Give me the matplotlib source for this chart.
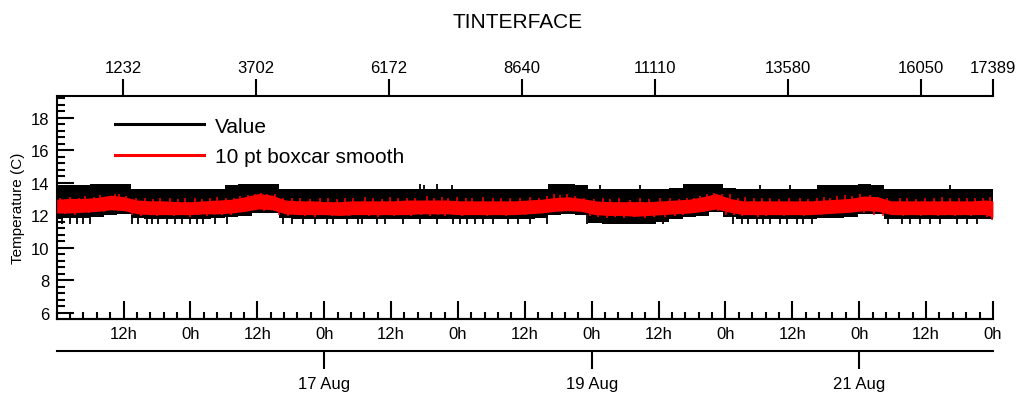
import numpy as np
import matplotlib.pyplot as plt
from matplotlib.lines import Line2D
from matplotlib.ticker import MultipleLocator

plt.rcParams['font.family'] = ['Liberation Sans', 'DejaVu Sans']

n_points = 17389
hours_total = 168.0

# sample index of each envelope reading (every 250 samples + last point)
seg_idx = list(range(0, 17251, 250)) + [17389]

# raw "Value" trace envelope
black_hi = [13.85, 13.85, 13.9, 13.95, 13.95, 13.95, 13.65, 13.6, 13.6, 13.6,
            13.6, 13.6, 13.6, 13.85, 13.95, 13.95, 13.95, 13.6, 13.6, 13.6,
            13.6, 13.6, 13.6, 13.6, 13.6, 13.6, 13.6, 13.65, 13.65, 13.6,
            13.6, 13.6, 13.6, 13.6, 13.6, 13.6, 13.65, 13.95, 13.95, 13.9,
            13.6, 13.6, 13.6, 13.6, 13.6, 13.6, 13.7, 13.95, 13.95, 13.95,
            13.7, 13.6, 13.6, 13.6, 13.6, 13.6, 13.6, 13.85, 13.9, 13.9,
            13.95, 13.9, 13.6, 13.6, 13.6, 13.6, 13.6, 13.6, 13.6, 13.6, 13.6]
black_lo = [11.8, 11.85, 11.85, 11.9, 12.05, 12.1, 11.85, 11.8, 11.8, 11.8,
            11.8, 11.8, 11.85, 11.9, 11.95, 12.15, 12.15, 11.85, 11.8, 11.8,
            11.8, 11.8, 11.8, 11.8, 11.8, 11.8, 11.8, 11.8, 11.8, 11.8,
            11.8, 11.8, 11.8, 11.8, 11.8, 11.8, 11.85, 12.0, 12.1, 12.05,
            11.55, 11.5, 11.5, 11.5, 11.5, 11.6, 11.8, 11.9, 11.95, 12.2,
            11.9, 11.8, 11.8, 11.8, 11.8, 11.8, 11.8, 11.85, 11.85, 11.9,
            12.1, 12.1, 11.8, 11.8, 11.8, 11.8, 11.8, 11.8, 11.8, 11.8, 11.8]

# 10 pt boxcar smooth envelope
red_hi = [13.0, 13.05, 13.05, 13.1, 13.25, 13.15, 12.95, 12.9, 12.9, 12.85,
          12.85, 12.9, 12.95, 13.0, 13.15, 13.35, 13.25, 12.95, 12.9, 12.9,
          12.85, 12.85, 12.9, 12.9, 12.9, 12.9, 12.95, 12.95, 12.95, 12.95,
          12.9, 12.9, 12.9, 12.9, 12.9, 12.95, 13.0, 13.1, 13.15, 13.05,
          12.9, 12.85, 12.85, 12.85, 12.85, 12.9, 12.95, 13.0, 13.15, 13.35,
          13.05, 12.9, 12.9, 12.9, 12.9, 12.9, 12.9, 12.95, 13.0, 13.05,
          13.2, 13.15, 12.9, 12.9, 12.9, 12.9, 12.9, 12.9, 12.9, 12.95, 12.9]
red_lo = [12.15, 12.15, 12.2, 12.25, 12.35, 12.3, 12.1, 12.05, 12.05, 12.05,
          12.05, 12.1, 12.1, 12.15, 12.25, 12.4, 12.35, 12.1, 12.05, 12.05,
          12.05, 12.0, 12.05, 12.05, 12.05, 12.05, 12.05, 12.1, 12.1, 12.1,
          12.05, 12.05, 12.05, 12.05, 12.05, 12.1, 12.15, 12.25, 12.3, 12.25,
          12.05, 12.0, 12.0, 11.95, 12.0, 12.05, 12.1, 12.15, 12.25, 12.4,
          12.2, 12.05, 12.05, 12.05, 12.05, 12.05, 12.05, 12.1, 12.15, 12.2,
          12.3, 12.25, 12.05, 12.05, 12.05, 12.05, 12.05, 12.05, 12.05, 12.05, 11.9]

# isolated excursions of the raw trace
dip_idx = [98, 247, 377, 488, 618, 1398, 1510, 1677, 1770, 1881, 2048, 2197,
           2327, 2475, 2605, 2717, 2940, 3163, 4203, 4370, 4574, 4797, 5020,
           5131, 5391, 5595, 5670, 5948, 6097, 6431, 6747, 7063, 7360, 7490,
           7620, 7768, 7917, 8103, 8381, 8567, 8790, 9106, 9849, 11260, 12560,
           12727, 12839, 13006, 13117, 13247, 13433, 13563, 13749, 13860,
           14027, 15438, 15698, 15847, 16033, 16219, 16405, 16720, 16906, 17092]
dip_val = [11.5, 11.45, 11.5, 11.45, 11.5, 11.5, 11.45, 11.45, 11.5, 11.45,
           11.45, 11.5, 11.45, 11.45, 11.5, 11.45, 11.45, 11.5, 11.45, 11.45,
           11.5, 11.45, 11.45, 11.5, 11.45, 11.45, 11.5, 11.45, 11.5, 11.45,
           11.45, 11.5, 11.45, 11.45, 11.5, 11.45, 11.45, 11.5, 11.45, 11.5,
           11.45, 11.5, 11.45, 11.45, 11.5, 11.45, 11.45, 11.5, 11.45, 11.45,
           11.5, 11.45, 11.45, 11.5, 11.45, 11.5, 11.45, 11.45, 11.5, 11.45,
           11.45, 11.5, 11.45, 11.5]
peak_idx = [6747, 6821, 7063, 7341, 10089, 10832, 13060, 13617, 16588]
peak_val = [13.95, 13.9, 13.95, 13.9, 13.9, 13.9, 13.9, 13.9, 13.9]

# excursions of the smoothed trace
red_up_idx = [60, 250, 420, 530, 700, 810, 950, 1090, 1150, 1290,
              1480, 1640, 1790, 1920, 2100, 2250, 2390, 2560, 2700, 2850,
              2980, 3150, 3300, 3410, 3560, 3680, 3790, 3900, 4050, 4200,
              4380, 4520, 4700, 4890, 5040, 5200, 5350, 5500, 5720, 5880,
              6050, 6190, 6340, 6500, 6650, 6880, 7010, 7150, 7270, 7440,
              7600, 7710, 7920, 8100, 8250, 8420, 8600, 8790, 8950, 9100,
              9230, 9350, 9480, 9630, 9800, 9980, 10150, 10280, 10450, 10640,
              10830, 11000, 11200, 11390, 11560, 11700, 11830, 11950, 12080, 12200,
              12350, 12500, 12650, 12790, 12950, 13100, 13250, 13420, 13600, 13800,
              13950, 14120, 14250, 14370, 14500, 14640, 14780, 14920, 15100, 15260,
              15420, 15660, 15800, 15960, 16130, 16300, 16450, 16590, 16750, 16900,
              17050, 17200, 17330]
red_up_val = [13.1, 13.15, 13.05, 13.2, 13.15, 13.25, 13.1, 13.3, 13.35, 13.2,
              13.05, 13.1, 13.0, 13.05, 13.1, 13.0, 13.1, 13.05, 13.0, 13.1,
              13.15, 13.05, 13.1, 13.2, 13.25, 13.35, 13.4, 13.3, 13.35, 13.1,
              13.05, 13.1, 13.0, 13.1, 13.05, 13.0, 13.05, 13.1, 13.15, 13.05,
              13.0, 13.15, 13.1, 13.05, 13.1, 13.2, 13.05, 13.15, 13.1, 13.15,
              13.05, 13.1, 13.15, 13.05, 13.1, 13.05, 13.1, 13.15, 13.1, 13.2,
              13.3, 13.25, 13.3, 13.2, 13.05, 13.0, 13.05, 13.0, 13.05, 12.95,
              13.1, 13.0, 13.05, 13.1, 13.0, 13.05, 13.1, 13.2, 13.3, 13.4,
              13.35, 13.3, 13.1, 13.15, 13.05, 13.1, 13.05, 13.0, 13.1, 13.05,
              13.0, 13.1, 13.15, 13.1, 13.2, 13.25, 13.2, 13.3, 13.25, 13.15,
              13.05, 13.1, 13.05, 13.0, 13.1, 13.05, 13.15, 13.1, 13.05, 13.1,
              13.1, 13.05, 13.15]
red_dn_idx = [150, 340, 600, 880, 1220, 1400, 1560, 1720, 1860, 2010,
              2180, 2330, 2480, 2630, 2790, 2920, 3080, 3230, 3480, 3850,
              4130, 4300, 4450, 4620, 4800, 4960, 5120, 5280, 5430, 5610,
              5800, 5970, 6120, 6270, 6420, 6580, 6760, 6940, 7090, 7210,
              7360, 7520, 7810, 7990, 8180, 8340, 8510, 8690, 8870, 9040,
              9900, 10060, 10220, 10370, 10540, 10730, 10920, 11100, 11300, 11480,
              11640, 12280, 12430, 12580, 12720, 12880, 13030, 13180, 13340, 13510,
              13700, 13880, 14050, 14200, 15000, 15180, 15340, 15550, 15720, 15880,
              16050, 16210, 16370, 16520, 16680, 16830, 16980, 17130, 17280, 17380]
red_dn_val = [12.1, 12.05, 12.15, 12.2, 12.25, 12.0, 11.95, 12.0, 11.95, 12.0,
              11.95, 12.0, 11.9, 12.0, 11.95, 12.0, 12.05, 12.0, 12.2, 12.3,
              12.0, 11.95, 12.0, 11.95, 11.9, 12.0, 11.95, 12.0, 11.95, 12.0,
              11.95, 11.9, 12.0, 11.95, 12.0, 11.95, 12.0, 11.95, 12.0, 11.95,
              12.0, 11.95, 12.0, 11.95, 12.0, 11.95, 12.0, 12.05, 12.1, 12.15,
              11.95, 11.9, 11.85, 11.9, 11.85, 11.9, 11.85, 11.9, 11.9, 11.95,
              12.0, 12.3, 12.05, 12.0, 11.95, 12.0, 11.9, 11.95, 12.0, 11.95,
              12.0, 11.95, 12.0, 12.05, 12.15, 12.0, 11.95, 12.0, 11.95, 12.0,
              11.95, 12.0, 11.95, 12.0, 11.95, 12.0, 11.95, 12.0, 11.9, 11.75]

top_ticks = [1232, 3702, 6172, 8640, 11110, 13580, 16050, 17389]
hour_ticks = [12, 24, 36, 48, 60, 72, 84, 96, 108, 120, 132, 144, 156, 168]
hour_labels = ['12h', '0h'] * 7
day_ticks = [48, 96, 144]
day_labels = ['17 Aug', '19 Aug', '21 Aug']

fig = plt.figure(figsize=(10.21, 4.02), dpi=100)
ax = fig.add_axes([0.0555, 0.204, 0.9170, 0.5547])

mid = 12.5
ax.fill_between(seg_idx, black_lo, black_hi, step='mid', color='black', lw=0, zorder=2)
ax.vlines(dip_idx, mid, dip_val, color='black', lw=1.3, zorder=2)
ax.vlines(peak_idx, mid, peak_val, color='black', lw=1.3, zorder=2)
ax.fill_between(seg_idx, red_lo, red_hi, color='#ff0000', lw=0, zorder=3)
ax.vlines(red_up_idx, mid, red_up_val, color='#ff0000', lw=1.1, zorder=3)
ax.vlines(red_dn_idx, mid, red_dn_val, color='#ff0000', lw=1.1, zorder=3)

ax.set_xlim(0, n_points)
ax.set_ylim(5.63, 19.35)

for s in ['left', 'top', 'bottom']:
    ax.spines[s].set_linewidth(1.5)
ax.spines['right'].set_visible(False)

# top axis: point number
ax.xaxis.tick_top()
ax.set_xticks(top_ticks)
ax.tick_params(axis='x', which='major', direction='out', length=12, width=1.5,
               pad=3, labelsize=12)

# left axis
ax.set_yticks(range(6, 19, 2))
ax.yaxis.set_minor_locator(MultipleLocator(0.4))
ax.tick_params(axis='y', which='major', direction='in', length=12, width=1.5,
               pad=5, labelsize=12)
ax.tick_params(axis='y', which='minor', direction='in', length=6, width=1.5)
ax.set_ylabel('Temperature (C)', fontsize=11)
ax.yaxis.set_label_coords(-0.034, 0.5)

# bottom axis: time of day
sec = ax.secondary_xaxis('bottom',
                         functions=(lambda i: i * hours_total / n_points,
                                    lambda h: h * n_points / hours_total))
sec.set_xticks(hour_ticks)
sec.set_xticklabels(hour_labels)
sec.xaxis.set_minor_locator(MultipleLocator(2.4))
sec.spines['bottom'].set_linewidth(1.5)
sec.tick_params(axis='x', which='major', direction='in', length=13, width=1.5,
                pad=5, labelsize=12)
sec.tick_params(axis='x', which='minor', direction='in', length=5, width=1.5)

# separate date axis below
axd = fig.add_axes([0.0555, 0.1244, 0.9170, 0.0001])
axd.set_xlim(0, hours_total)
axd.set_yticks([])
for s in ['left', 'right', 'top']:
    axd.spines[s].set_visible(False)
axd.spines['bottom'].set_linewidth(1.5)
axd.set_xticks(day_ticks)
axd.set_xticklabels(day_labels)
axd.tick_params(axis='x', direction='out', length=13, width=1.5, pad=5,
                labelsize=12)
axd.patch.set_visible(False)

handles = [Line2D([], [], color='black', lw=2.2),
           Line2D([], [], color='#ff0000', lw=2.2)]
ax.legend(handles, ['Value', '10 pt boxcar smooth'], loc='upper left',
          bbox_to_anchor=(0.062, 0.908), frameon=False, fontsize=15,
          handlelength=4.3, handletextpad=0.5, labelspacing=0.55,
          borderpad=0, borderaxespad=0)

fig.text(0.507, 1 - 22 / 402, 'TINTERFACE', ha='center', va='center',
         fontsize=15)

fig.savefig('out.png', dpi=100)
